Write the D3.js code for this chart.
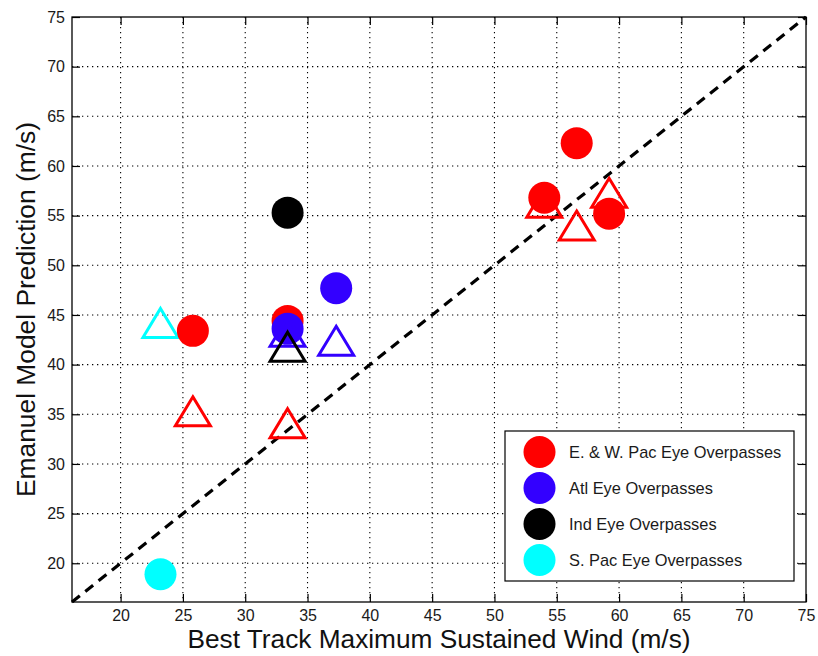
<!DOCTYPE html>
<html>
<head>
<meta charset="utf-8">
<script src="https://cdn.jsdelivr.net/npm/d3@7"></script>
<style>
  html, body { margin: 0; padding: 0; background: #fff; }
  svg { display: block; font-family: "Liberation Sans", Arial, Helvetica, sans-serif; }
</style>
</head>
<body>
<svg id="chart" width="818" height="656"></svg>
<script>
// Axis ticks
const xTicks = [20, 25, 30, 35, 40, 45, 50, 55, 60, 65, 70, 75];
const yTicks = [20, 25, 30, 35, 40, 45, 50, 55, 60, 65, 70, 75];

// Basin series: filled circles and open triangles (best track wind, model prediction)
const epacCircleX = [25.8, 33.4, 54.0, 56.6, 59.2];
const epacCircleY = [43.4, 44.4, 56.8, 62.3, 55.2];
const epacTriX    = [25.8, 33.4, 54.0, 56.6, 59.2];
const epacTriY    = [35.3, 34.1, 56.3, 54.0, 57.3];

const atlCircleX = [33.4, 37.3];
const atlCircleY = [43.6, 47.7];
const atlTriX    = [33.4, 37.3];
const atlTriY    = [43.3, 42.4];

const indCircleX = [33.4];
const indCircleY = [55.3];
const indTriX    = [33.4];
const indTriY    = [41.8];

const spacCircleX = [23.2];
const spacCircleY = [18.9];
const spacTriX    = [23.2];
const spacTriY    = [44.2];

const legendLabels = ["E. & W. Pac Eye Overpasses", "Atl Eye Overpasses", "Ind Eye Overpasses", "S. Pac Eye Overpasses"];
const seriesColors = ["#ff0000", "#3300ff", "#000000", "#00ffff"];

const xLabel = "Best Track Maximum Sustained Wind (m/s)";
const yLabel = "Emanuel Model Prediction (m/s)";

// ---- layout ----
const svg = d3.select("#chart");
const L = 72, R = 806, T = 17, B = 602;
const dMin = 16.1, dMax = 75;

const x = d3.scaleLinear().domain([dMin, dMax]).range([L, R]);
const y = d3.scaleLinear().domain([dMin, dMax]).range([B, T]);

svg.append("rect").attr("width", 818).attr("height", 656).attr("fill", "#fff");

// grid
const grid = svg.append("g").attr("stroke", "#000").attr("stroke-width", 1.1)
  .attr("stroke-dasharray", "1.3,3.7");
grid.selectAll("line.gx").data(xTicks.filter(v => v < dMax)).join("line")
  .attr("x1", d => x(d)).attr("x2", d => x(d)).attr("y1", T).attr("y2", B);
grid.selectAll("line.gy").data(yTicks.filter(v => v < dMax)).join("line")
  .attr("class", "gy")
  .attr("x1", L).attr("x2", R).attr("y1", d => y(d)).attr("y2", d => y(d));

// axes: inward ticks on all four sides
const tickLen = 8;
const axisBottom = d3.axisBottom(x).tickValues(xTicks).tickSizeInner(-tickLen).tickSizeOuter(0).tickPadding(8);
const axisTop = d3.axisTop(x).tickValues(xTicks).tickSizeInner(-tickLen).tickSizeOuter(0).tickFormat("");
const axisLeft = d3.axisLeft(y).tickValues(yTicks).tickSizeInner(-tickLen).tickSizeOuter(0).tickPadding(7);
const axisRight = d3.axisRight(y).tickValues(yTicks).tickSizeInner(-tickLen).tickSizeOuter(0).tickFormat("");

function styleAxis(g) {
  g.select(".domain").remove();
  g.selectAll(".tick line").attr("stroke", "#000").attr("stroke-width", 1.2);
  g.selectAll(".tick text").attr("fill", "#1a1a1a").attr("font-size", 16)
    .attr("font-family", "'Liberation Sans', Arial, Helvetica, sans-serif");
}
svg.append("g").attr("transform", `translate(0,${B})`).call(axisBottom).call(styleAxis);
svg.append("g").attr("transform", `translate(0,${T})`).call(axisTop).call(styleAxis);
svg.append("g").attr("transform", `translate(${L},0)`).call(axisLeft).call(styleAxis);
svg.append("g").attr("transform", `translate(${R},0)`).call(axisRight).call(styleAxis);

// 1:1 reference line
svg.append("line")
  .attr("x1", x(dMin)).attr("y1", y(dMin)).attr("x2", x(dMax)).attr("y2", y(dMax))
  .attr("stroke", "#000").attr("stroke-width", 3.2).attr("stroke-dasharray", "10,7");

// markers
const triPath = "M0,-14.5L17.5,14.5L-17.5,14.5Z";
const plot = svg.append("g");

function drawTriangles(xs, ys, color) {
  plot.append("g").selectAll("path").data(xs.map((v, i) => [v, ys[i]])).join("path")
    .attr("d", triPath)
    .attr("transform", d => `translate(${x(d[0])},${y(d[1])})`)
    .attr("fill", "none").attr("stroke", color).attr("stroke-width", 3)
    .attr("stroke-linejoin", "miter");
}
function drawCircles(xs, ys, color) {
  plot.append("g").selectAll("circle").data(xs.map((v, i) => [v, ys[i]])).join("circle")
    .attr("cx", d => x(d[0])).attr("cy", d => y(d[1])).attr("r", 16)
    .attr("fill", color);
}

drawCircles(spacCircleX, spacCircleY, seriesColors[3]);
drawTriangles(spacTriX, spacTriY, seriesColors[3]);
drawTriangles(epacTriX, epacTriY, seriesColors[0]);
drawCircles(epacCircleX, epacCircleY, seriesColors[0]);
drawCircles(atlCircleX, atlCircleY, seriesColors[1]);
drawTriangles(atlTriX, atlTriY, seriesColors[1]);
drawCircles(indCircleX, indCircleY, seriesColors[2]);
drawTriangles(indTriX, indTriY, seriesColors[2]);

// frame
svg.append("rect").attr("x", L).attr("y", T).attr("width", R - L).attr("height", B - T)
  .attr("fill", "none").attr("stroke", "#000").attr("stroke-width", 1.3);

// legend
const lg = svg.append("g").attr("transform", "translate(505,431)");
lg.append("rect").attr("width", 289).attr("height", 150)
  .attr("fill", "#fff").attr("stroke", "#000").attr("stroke-width", 1.2);
const rows = lg.selectAll("g.row").data(legendLabels).join("g")
  .attr("transform", (d, i) => `translate(0,${21 + i * 36})`);
rows.append("circle").attr("cx", 34.5).attr("cy", 0).attr("r", 16)
  .attr("fill", (d, i) => seriesColors[i]);
rows.append("text").attr("x", 64).attr("y", 6).attr("font-size", 16.4)
  .attr("fill", "#1a1a1a").text(d => d);

// axis titles
svg.append("text").attr("x", (L + R) / 2).attr("y", 648)
  .attr("text-anchor", "middle").attr("font-size", 25).attr("fill", "#111")
  .attr("textLength", 503).attr("lengthAdjust", "spacingAndGlyphs")
  .text(xLabel);
svg.append("text")
  .attr("transform", `translate(35,${(T + B) / 2}) rotate(-90)`)
  .attr("text-anchor", "middle").attr("font-size", 25).attr("fill", "#111")
  .attr("textLength", 375).attr("lengthAdjust", "spacingAndGlyphs")
  .text(yLabel);
</script>
</body>
</html>
